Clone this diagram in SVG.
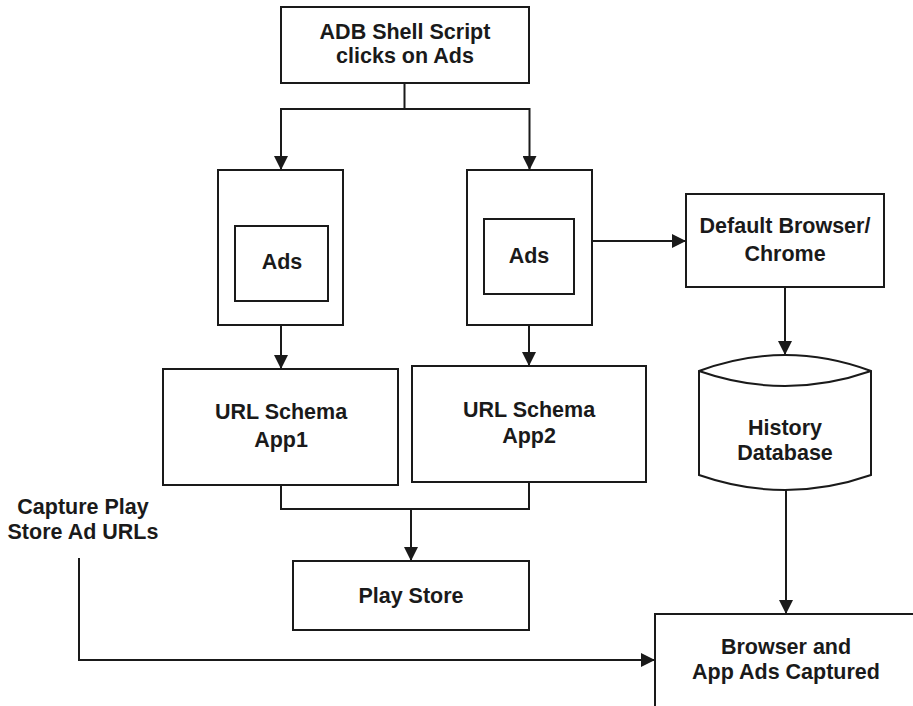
<svg xmlns="http://www.w3.org/2000/svg" width="913" height="706" viewBox="0 0 913 706">
<style>
.box{fill:#fff;stroke:#1a1a1a;stroke-width:2}
.ln{fill:none;stroke:#1a1a1a;stroke-width:2}
.t{font-family:"Liberation Sans",Arial,Helvetica,sans-serif;font-weight:bold;font-size:21.5px;fill:#1a1a1a;text-anchor:middle}
</style>
<defs>
<marker id="ah" viewBox="0 0 10 10" refX="10" refY="5" markerUnits="userSpaceOnUse" markerWidth="14" markerHeight="14" orient="auto">
<path d="M0,0 L10,5 L0,10 Z" fill="#1a1a1a"/>
</marker>
</defs>
<rect width="913" height="706" fill="#fff"/>
<g id="connectors">
<path class="ln" d="M404.5,83 V109 H281 V170" marker-end="url(#ah)"/>
<path class="ln" d="M404.5,109 H529.5 V170" marker-end="url(#ah)"/>
<path class="ln" d="M281,301 V369" marker-end="url(#ah)"/>
<path class="ln" d="M529,294 V366" marker-end="url(#ah)"/>
<path class="ln" d="M592,241 H686" marker-end="url(#ah)"/>
<path class="ln" d="M785,287 V355" marker-end="url(#ah)"/>
<path class="ln" d="M281,485 V509 H529 V482"/>
<path class="ln" d="M411,509 V561" marker-end="url(#ah)"/>
<path class="ln" d="M79,558 V660 H655" marker-end="url(#ah)"/>
<path class="ln" d="M786,490 V614" marker-end="url(#ah)"/>
</g>
<g id="adb">
<rect class="box" x="281" y="7" width="248" height="76"/>
<text class="t" x="405" y="39">ADB Shell Script</text>
<text class="t" x="405" y="63">clicks on Ads</text>
</g>
<g id="app1-frame">
<rect class="box" x="218" y="170" width="125" height="155"/>
</g>
<g id="ads1">
<rect class="box" x="235" y="226" width="93" height="75"/>
<text class="t" x="282" y="269">Ads</text>
</g>
<g id="app2-frame">
<rect class="box" x="467" y="170" width="125" height="155"/>
</g>
<g id="ads2">
<rect class="box" x="484" y="219" width="90" height="75"/>
<text class="t" x="529" y="263">Ads</text>
</g>
<g id="browser">
<rect class="box" x="686" y="194" width="198" height="93"/>
<text class="t" x="785" y="233">Default Browser/</text>
<text class="t" x="785" y="261">Chrome</text>
</g>
<g id="history">
<path class="box" d="M699,371 Q785,339 871,371 V475 Q785,505 699,475 Z"/>
<path class="ln" d="M699,371 Q785,401 871,371"/>
<text class="t" x="785" y="435">History</text>
<text class="t" x="785" y="460">Database</text>
</g>
<g id="url1">
<rect class="box" x="163" y="369" width="235" height="116"/>
<text class="t" x="281" y="419">URL Schema</text>
<text class="t" x="281" y="447">App1</text>
</g>
<g id="url2">
<rect class="box" x="412" y="366" width="234" height="116"/>
<text class="t" x="529" y="417">URL Schema</text>
<text class="t" x="529" y="443">App2</text>
</g>
<g id="playstore">
<rect class="box" x="293" y="561" width="236" height="69"/>
<text class="t" x="411" y="603">Play Store</text>
</g>
<g id="capture">
<text class="t" x="83" y="514">Capture Play</text>
<text class="t" x="83" y="539">Store Ad URLs</text>
</g>
<g id="captured">
<rect class="box" x="655" y="614" width="270" height="110"/>
<text class="t" x="786" y="654">Browser and</text>
<text class="t" x="786" y="679">App Ads Captured</text>
</g>
</svg>
